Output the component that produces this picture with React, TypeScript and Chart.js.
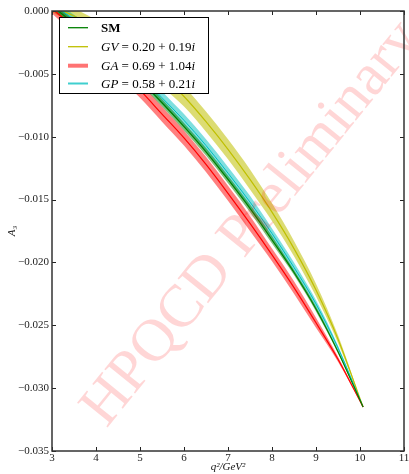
import React, { useEffect, useRef } from "react";
import { Chart, registerables } from "chart.js";

Chart.register(...registerables);

// q^2 sample points (GeV^2)
const q2 = [3.0, 3.5, 4.0, 4.5, 5.0, 5.5, 6.0, 6.5, 7.0, 7.5, 8.0, 8.5, 9.0, 9.5, 10.07];

// central values of A_3
const smVals = [0.0004, -0.001, -0.0024, -0.0039, -0.0055, -0.0073, -0.0092, -0.0112, -0.0134, -0.0157, -0.0182, -0.0208, -0.0237, -0.0271, -0.0315];
const gvVals = [0.0004, -0.0004, -0.0013, -0.0024, -0.0037, -0.0052, -0.0068, -0.0088, -0.011, -0.0134, -0.016, -0.0189, -0.0222, -0.0261, -0.0315];
const gaVals = [0.0002, -0.0013, -0.0029, -0.0046, -0.0063, -0.0082, -0.0101, -0.0122, -0.0145, -0.0169, -0.0194, -0.022, -0.0248, -0.0277, -0.0315];
const gpVals = [0.0006, -0.0007, -0.002, -0.0035, -0.0051, -0.0069, -0.0087, -0.0107, -0.0129, -0.0152, -0.0177, -0.0204, -0.0233, -0.0268, -0.0315];

// band half-widths
const smErr = [0.0003, 0.0003, 0.0003, 0.0003, 0.0003, 0.0003, 0.0003, 0.0003, 0.0003, 0.0003, 0.0003, 0.0002, 0.0002, 0.0001, 0];
const gvErr = [0.0005, 0.0006, 0.0006, 0.0007, 0.0007, 0.0008, 0.0008, 0.0008, 0.0008, 0.0008, 0.0007, 0.0006, 0.0005, 0.0003, 0];
const gaErr = [0.0004, 0.0005, 0.0005, 0.0006, 0.0006, 0.0006, 0.0006, 0.0006, 0.0006, 0.0006, 0.0005, 0.0005, 0.0004, 0.0002, 0];
const gpErr = [0.0004, 0.0004, 0.0005, 0.0005, 0.0005, 0.0005, 0.0005, 0.0005, 0.0005, 0.0005, 0.0004, 0.0004, 0.0003, 0.0002, 0];

const xTicks = [3, 4, 5, 6, 7, 8, 9, 10, 11];
const yTicks = [-0.035, -0.03, -0.025, -0.02, -0.015, -0.01, -0.005, 0.0];

const SERIF = "'Liberation Serif', 'DejaVu Serif', serif";

type Seg = { t: string; f: string };
const legendRows: { color: string; width: number; segs: Seg[] }[] = [
  { color: "#008000", width: 1.3, segs: [{ t: "SM", f: `bold 13px ${SERIF}` }] },
  {
    color: "#bfbf00",
    width: 1.3,
    segs: [
      { t: "GV", f: `italic 13px ${SERIF}` },
      { t: " = 0.20 + 0.19", f: `13px ${SERIF}` },
      { t: "i", f: `italic 13px ${SERIF}` },
    ],
  },
  {
    color: "rgba(255,0,0,0.55)",
    width: 4,
    segs: [
      { t: "GA", f: `italic 13px ${SERIF}` },
      { t: " = 0.69 + 1.04", f: `13px ${SERIF}` },
      { t: "i", f: `italic 13px ${SERIF}` },
    ],
  },
  {
    color: "#3fcfcf",
    width: 2,
    segs: [
      { t: "GP", f: `italic 13px ${SERIF}` },
      { t: " = 0.58 + 0.21", f: `13px ${SERIF}` },
      { t: "i", f: `italic 13px ${SERIF}` },
    ],
  },
];

function pts(vals: number[], err?: number[], sign = 0) {
  return q2.map((x, i) => ({ x, y: vals[i] + (err ? sign * err[i] : 0) }));
}

const framePlugin = {
  id: "frame",
  afterDatasetsDraw(chart: any) {
    const { ctx, chartArea: a, scales } = chart;
    ctx.save();
    // watermark
    ctx.save();
    ctx.translate(252, 224);
    ctx.rotate((-51 * Math.PI) / 180);
    ctx.font = `60px ${SERIF}`;
    ctx.fillStyle = "rgba(255,0,0,0.16)";
    ctx.textAlign = "center";
    ctx.textBaseline = "middle";
    ctx.fillText("HPQCD Preliminary", 0, 0);
    ctx.restore();

    // inward ticks
    ctx.strokeStyle = "#222";
    ctx.lineWidth = 1;
    const L = 4;
    xTicks.forEach((v) => {
      const x = Math.round(scales.x.getPixelForValue(v)) + 0.5;
      ctx.beginPath();
      ctx.moveTo(x, a.bottom);
      ctx.lineTo(x, a.bottom - L);
      ctx.moveTo(x, a.top);
      ctx.lineTo(x, a.top + L);
      ctx.stroke();
    });
    yTicks.forEach((v) => {
      const y = Math.round(scales.y.getPixelForValue(v)) + 0.5;
      ctx.beginPath();
      ctx.moveTo(a.left, y);
      ctx.lineTo(a.left + L, y);
      ctx.moveTo(a.right, y);
      ctx.lineTo(a.right - L, y);
      ctx.stroke();
    });
    // frame
    ctx.strokeStyle = "#333";
    ctx.lineWidth = 1.5;
    ctx.strokeRect(a.left, a.top, a.right - a.left, a.bottom - a.top);

    // legend
    const bx = 59.5, by = 17.5, bw = 149, bh = 76;
    ctx.fillStyle = "#fff";
    ctx.fillRect(bx, by, bw, bh);
    ctx.strokeStyle = "#000";
    ctx.lineWidth = 1;
    ctx.strokeRect(bx, by, bw, bh);
    const rowY = [27.7, 46.7, 65.7, 83.5];
    legendRows.forEach((r, i) => {
      const y = rowY[i];
      ctx.strokeStyle = r.color;
      ctx.lineWidth = r.width;
      ctx.beginPath();
      ctx.moveTo(68, y);
      ctx.lineTo(88, y);
      ctx.stroke();
      let x = 101;
      ctx.fillStyle = "#000";
      ctx.textBaseline = "middle";
      ctx.textAlign = "left";
      r.segs.forEach((s) => {
        ctx.font = s.f;
        ctx.fillText(s.t, x, y + 1);
        x += ctx.measureText(s.t).width;
      });
    });
    ctx.restore();
  },
};

export default function App() {
  const ref = useRef<HTMLCanvasElement | null>(null);
  useEffect(() => {
    document.body.style.margin = "0";
    const canvas = ref.current!;
    const base = { pointRadius: 0, tension: 0.4, cubicInterpolationMode: "monotone" as const };
    const lineDs = (label: string, vals: number[], color: string, w: number) => ({
      ...base,
      label,
      data: pts(vals),
      borderColor: color,
      borderWidth: w,
      fill: false,
    });
    const bandDs = (vals: number[], err: number[], color: string, lowerIndex: number | null) =>
      lowerIndex === null
        ? { ...base, data: pts(vals, err, -1), borderWidth: 0, borderColor: "transparent", fill: false }
        : {
            ...base,
            data: pts(vals, err, 1),
            borderWidth: 0,
            borderColor: "transparent",
            backgroundColor: color,
            fill: { target: lowerIndex },
          };
    const datasets: any[] = [
      lineDs("SM", smVals, "#008000", 1.2), // 0
      lineDs("GA", gaVals, "#ff0000", 1.2), // 1
      lineDs("GP", gpVals, "#00bfbf", 1.0), // 2
      lineDs("GV", gvVals, "#bfbf00", 1.2), // 3
      bandDs(smVals, smErr, "", null), // 4
      bandDs(smVals, smErr, "rgba(0,128,0,0.5)", 4), // 5
      bandDs(gpVals, gpErr, "", null), // 6
      bandDs(gpVals, gpErr, "rgba(0,191,191,0.5)", 6), // 7
      bandDs(gaVals, gaErr, "", null), // 8
      bandDs(gaVals, gaErr, "rgba(255,0,0,0.5)", 8), // 9
      bandDs(gvVals, gvErr, "", null), // 10
      bandDs(gvVals, gvErr, "rgba(191,191,0,0.55)", 10), // 11
    ];
    const chart = new Chart(canvas, {
      type: "line",
      data: { datasets },
      options: {
        animation: false,
        responsive: false,
        devicePixelRatio: 1,
        layout: { padding: { top: 11, right: 5, left: 0, bottom: 0 } },
        plugins: { legend: { display: false }, tooltip: { enabled: false } },
        scales: {
          x: {
            type: "linear",
            min: 3,
            max: 11,
            afterBuildTicks: (s: any) => {
              s.ticks = xTicks.map((v) => ({ value: v }));
            },
            afterFit: (s: any) => {
              s.height = 23;
              s.paddingLeft = 0;
              s.paddingRight = 0;
            },
            grid: { display: false, drawTicks: false },
            border: { display: false },
            ticks: {
              padding: 1,
              color: "#222",
              font: { family: SERIF, size: 11 },
              callback: (v: any) => String(v),
            },
            title: {
              display: true,
              text: "q²/GeV²",
              color: "#111",
              padding: { top: 0, bottom: 0 },
              font: { family: SERIF, size: 11, style: "italic" },
            },
          },
          y: {
            type: "linear",
            min: -0.035,
            max: 0,
            afterBuildTicks: (s: any) => {
              s.ticks = yTicks.map((v) => ({ value: v }));
            },
            afterFit: (s: any) => {
              s.width = 52;
              s.paddingTop = 0;
              s.paddingBottom = 0;
            },
            grid: { display: false, drawTicks: false },
            border: { display: false },
            ticks: {
              padding: 3,
              color: "#222",
              font: { family: SERIF, size: 11 },
              callback: (v: any) => {
                const n = Number(v);
                const s = Math.abs(n).toFixed(3);
                return n < -1e-9 ? "\u2212" + s : s;
              },
            },
            title: {
              display: true,
              text: "A₃",
              color: "#111",
              padding: { top: 6, bottom: 0 },
              font: { family: SERIF, size: 11, style: "italic" },
            },
          },
        },
      },
      plugins: [framePlugin],
    });
    return () => chart.destroy();
  }, []);
  return (
    <div style={{ width: 409, height: 474, background: "#fff" }}>
      <canvas ref={ref} width={409} height={474} />
    </div>
  );
}
